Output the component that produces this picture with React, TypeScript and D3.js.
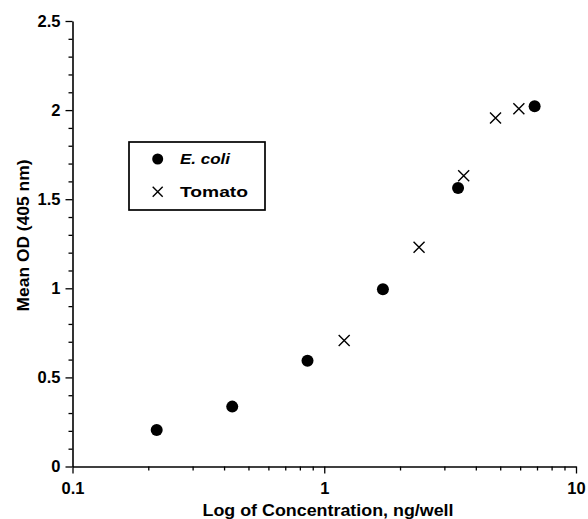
import * as d3 from "d3";
import { useEffect, useRef } from "react";

// values
const ecoliConc = [0.216, 0.431, 0.858, 1.71, 3.4, 6.85];
const ecoliOD = [0.205, 0.336, 0.593, 0.995, 1.563, 2.021];
const tomatoConc = [1.2, 2.38, 3.58, 4.79, 5.93];
const tomatoOD = [0.707, 1.231, 1.632, 1.956, 2.007];

const yMajor = [0, 0.5, 1, 1.5, 2, 2.5];
const yMinor = [0.1, 0.2, 0.3, 0.4, 0.6, 0.7, 0.8, 0.9, 1.1, 1.2, 1.3, 1.4, 1.6, 1.7, 1.8, 1.9, 2.1, 2.2, 2.3, 2.4];
const xMajor = [0.1, 1, 10];
const xMinor = [0.2, 0.3, 0.4, 0.5, 0.6, 0.7, 0.8, 0.9, 2, 3, 4, 5, 6, 7, 8, 9];

const legendLabels = ["E. coli", "Tomato"];

const FONT = "'Liberation Sans', Arial, Helvetica, sans-serif";

const App = () => {
  const ref = useRef<SVGSVGElement | null>(null);
  const width = 588,
    height = 519;
  const plot = { left: 72.5, right: 576, top: 21, bottom: 466.5 };

  useEffect(() => {
    const svg = d3.select(ref.current);
    svg.selectAll("*").remove();

    const x = d3.scaleLog().domain([0.1, 10]).range([plot.left, plot.right]);
    const y = d3.scaleLinear().domain([0, 2.5]).range([plot.bottom, plot.top]);

    const styleAxis = (g: any) => {
      g.attr("font-family", FONT).attr("font-size", 16.5).attr("font-weight", "bold");
      g.selectAll("line").attr("stroke", "#000").attr("stroke-width", 1.3);
      g.selectAll("path").attr("stroke", "#000").attr("stroke-width", 1.6);
      g.selectAll("text").attr("fill", "#000");
    };

    // y axis
    svg
      .append("g")
      .attr("transform", `translate(${plot.left},0)`)
      .call(d3.axisLeft(y).tickValues(yMinor).tickSize(4).tickSizeOuter(0).tickFormat(() => ""))
      .call((g) => g.select(".domain").remove())
      .call(styleAxis);
    svg
      .append("g")
      .attr("transform", `translate(${plot.left},0)`)
      .call(d3.axisLeft(y).tickValues(yMajor).tickSize(7).tickSizeOuter(0).tickPadding(5).tickFormat((d: any) => String(d)))
      .call(styleAxis);

    // x axis
    svg
      .append("g")
      .attr("transform", `translate(0,${plot.bottom})`)
      .call(d3.axisBottom(x).tickValues(xMinor).tickSize(4).tickSizeOuter(0).tickFormat(() => ""))
      .call((g) => g.select(".domain").remove())
      .call(styleAxis);
    svg
      .append("g")
      .attr("transform", `translate(0,${plot.bottom})`)
      .call(d3.axisBottom(x).tickValues(xMajor).tickSize(7).tickSizeOuter(0).tickPadding(8.5).tickFormat((d: any) => String(d)))
      .call(styleAxis);

    // axis titles
    svg
      .append("text")
      .attr("x", 328)
      .attr("y", 516)
      .attr("text-anchor", "middle")
      .attr("font-family", FONT)
      .attr("font-weight", "bold")
      .attr("font-size", 16.5)
      .attr("textLength", 251)
      .attr("lengthAdjust", "spacingAndGlyphs")
      .text("Log of Concentration, ng/well");

    svg
      .append("text")
      .attr("transform", "translate(29,235.5) rotate(-90)")
      .attr("text-anchor", "middle")
      .attr("font-family", FONT)
      .attr("font-weight", "bold")
      .attr("font-size", 17)
      .attr("textLength", 152)
      .attr("lengthAdjust", "spacingAndGlyphs")
      .text("Mean OD (405 nm)");

    const cross = (g: any, cx: number, cy: number, s: number) => {
      g.append("path")
        .attr("d", `M${cx - s},${cy - s}L${cx + s},${cy + s}M${cx - s},${cy + s}L${cx + s},${cy - s}`)
        .attr("stroke", "#000")
        .attr("stroke-width", 1.4)
        .attr("fill", "none");
    };

    // E. coli points
    svg
      .append("g")
      .selectAll("circle")
      .data(ecoliConc)
      .join("circle")
      .attr("cx", (d) => x(d))
      .attr("cy", (d, i) => y(ecoliOD[i]))
      .attr("r", 6)
      .attr("fill", "#000");

    // Tomato points
    const tg = svg.append("g");
    tomatoConc.forEach((c, i) => cross(tg, x(c), y(tomatoOD[i]), 5.5));

    // legend
    const lg = svg.append("g");
    lg.append("rect")
      .attr("x", 129)
      .attr("y", 142)
      .attr("width", 136)
      .attr("height", 68)
      .attr("fill", "#fff")
      .attr("stroke", "#000")
      .attr("stroke-width", 1.7);
    lg.append("circle").attr("cx", 157.7).attr("cy", 159).attr("r", 5.5).attr("fill", "#000");
    cross(lg, 157.7, 191.7, 5);
    lg.append("text")
      .attr("x", 180)
      .attr("y", 163.5)
      .attr("font-family", FONT)
      .attr("font-weight", "bold")
      .attr("font-style", "italic")
      .attr("font-size", 14.5)
      .attr("textLength", 50)
      .attr("lengthAdjust", "spacingAndGlyphs")
      .text(legendLabels[0]);
    lg.append("text")
      .attr("x", 180)
      .attr("y", 196.7)
      .attr("font-family", FONT)
      .attr("font-weight", "bold")
      .attr("font-size", 15)
      .attr("textLength", 68)
      .attr("lengthAdjust", "spacingAndGlyphs")
      .text(legendLabels[1]);
  }, []);

  return (
    <svg
      ref={ref}
      width={width}
      height={height}
      style={{ position: "absolute", left: 0, top: 0, background: "#fff" }}
    />
  );
};

export default App;
